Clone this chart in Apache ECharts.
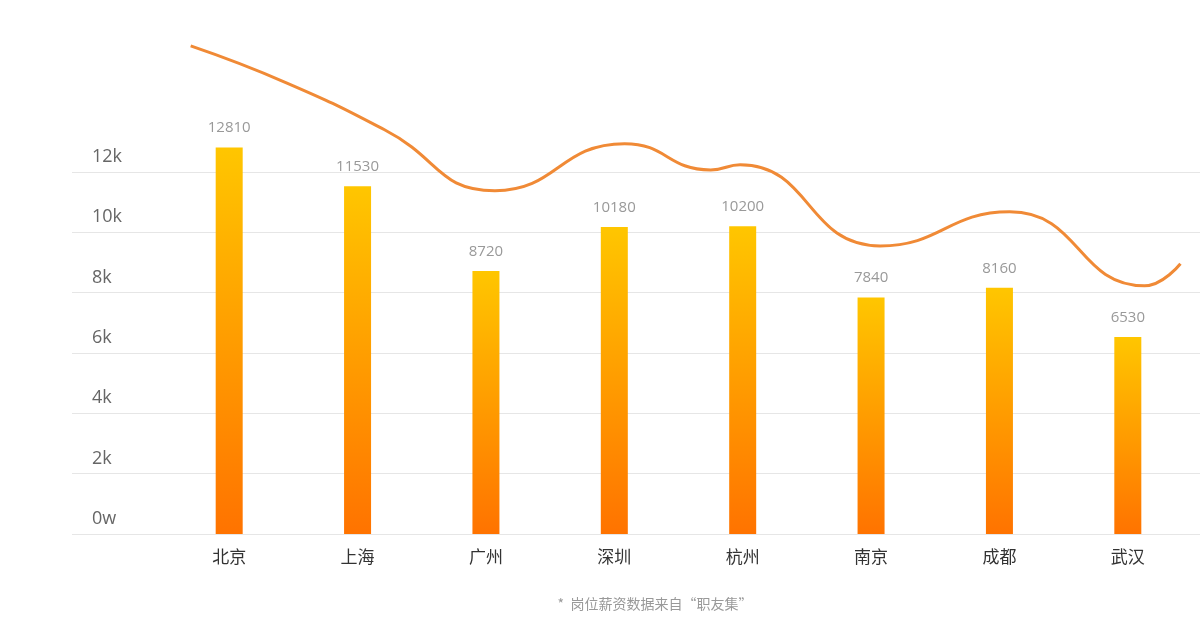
<!DOCTYPE html>
<html>
<head>
<meta charset="utf-8">
<script src="https://cdn.jsdelivr.net/npm/echarts@6/dist/echarts.min.js"></script>
<style>
  html, body { margin: 0; padding: 0; background: #fff; }
  #main { width: 1200px; height: 622px; }
</style>
</head>
<body>
<div id="main"></div>
<script>
// 城市
const cities = ['北京', '上海', '广州', '深圳', '杭州', '南京', '成都', '武汉'];
// 平均薪资
const salaries = [12810, 11530, 8720, 10180, 10200, 7840, 8160, 6530];
// 趋势线（横坐标为城市序号）
const trendX = [-0.30, 0.45, 1.21, 2.07, 3.08, 3.75, 3.98, 5.07, 6.08, 7.13, 7.41];
const trendY = [16180, 14950, 13400, 11380, 12940, 12070, 12240, 9550, 10680, 8230, 8960];
// 纵轴刻度文字
const yTickLabels = { 0: '0w', 2000: '2k', 4000: '4k', 6000: '6k', 8000: '8k', 10000: '10k', 12000: '12k' };

const chart = echarts.init(document.getElementById('main'));

const option = {
  animation: false,
  grid: [
    { left: 72, right: 0, top: 172, bottom: 88 },
    { left: 165, right: 8, top: 172, bottom: 88 }
  ],
  title: {
    text: '*  岗位薪资数据来自“职友集”',
    left: 650, top: 592, textAlign: 'center',
    textStyle: { color: '#999', fontSize: 14, fontWeight: 'normal', fontFamily: 'Noto Sans CJK SC' }
  },
  xAxis: [
    { gridIndex: 0, type: 'value', show: false, min: 0, max: 1 },
    {
      gridIndex: 1, type: 'category', data: cities,
      axisLine: { show: false }, axisTick: { show: false },
      axisLabel: { color: '#333', fontSize: 17, margin: 14, fontFamily: 'Noto Sans CJK SC' }
    },
    { gridIndex: 1, type: 'value', show: false, min: -0.5, max: 7.5 }
  ],
  yAxis: [
    {
      gridIndex: 0, type: 'value', min: 0, max: 12000, interval: 2000,
      axisLine: { show: false }, axisTick: { show: false },
      splitLine: { lineStyle: { color: '#e6e6e6' } },
      axisLabel: {
        inside: true, margin: 20, color: '#666', fontSize: 18, verticalAlign: 'bottom',
        padding: [0, 0, 6, 0], fontFamily: 'Open Sans',
        formatter: v => yTickLabels[v]
      }
    },
    { gridIndex: 1, type: 'value', min: 0, max: 12000, show: false }
  ],
  series: [
    {
      type: 'bar', xAxisIndex: 1, yAxisIndex: 1, data: salaries, barWidth: 27, clip: false,
      itemStyle: {
        color: new echarts.graphic.LinearGradient(0, 0, 0, 1, [
          { offset: 0, color: '#FFC600' },
          { offset: 1, color: '#FF7300' }
        ])
      },
      label: { show: true, position: 'top', distance: 12, color: '#999', fontSize: 15, fontFamily: 'Open Sans' }
    },
    {
      type: 'line', xAxisIndex: 2, yAxisIndex: 1, smooth: 0.5, showSymbol: false, clip: false,
      data: trendX.map((x, i) => [x, trendY[i]]),
      lineStyle: { color: '#F08A36', width: 3 }
    }
  ]
};

chart.setOption(option);
</script>
</body>
</html>
